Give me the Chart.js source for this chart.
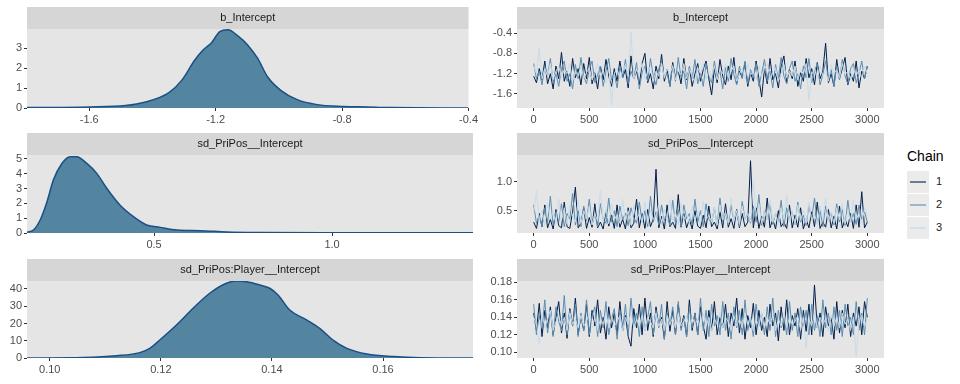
<!DOCTYPE html>
<html>
<head>
<meta charset="utf-8">
<script src="https://cdn.jsdelivr.net/npm/chart.js@4.4.1/dist/chart.umd.min.js"></script>
<style>
  body { margin: 0; background: #fff; width: 960px; height: 384px; overflow: hidden; position: relative; font-family: "Liberation Sans", Arial, sans-serif; }
  canvas { position: absolute; }
  .legend-title { position: absolute; left: 907px; top: 148px; font-size: 14px; color: #000; }
  .key { position: absolute; left: 907px; width: 22px; height: 22px; background: #EBEBEB; }
  .key span { position: absolute; left: 3px; right: 3px; top: 10px; height: 2px; }
  .key-label { position: absolute; left: 936px; font-size: 11px; color: #1A1A1A; }
</style>
</head>
<body>
<canvas id="dens1" width="480" height="128" style="left:0;top:0"></canvas>
<canvas id="dens2" width="480" height="126" style="left:0;top:128px"></canvas>
<canvas id="dens3" width="480" height="130" style="left:0;top:254px"></canvas>
<canvas id="trace1" width="410" height="128" style="left:480px;top:0"></canvas>
<canvas id="trace2" width="410" height="126" style="left:480px;top:128px"></canvas>
<canvas id="trace3" width="410" height="130" style="left:480px;top:254px"></canvas>

<div class="legend-title">Chain</div>
<div class="key" style="top:171px"><span style="background:rgba(1,31,75,0.55)"></span></div>
<div class="key" style="top:194px"><span style="background:rgba(91,141,176,0.55)"></span></div>
<div class="key" style="top:217px"><span style="background:rgba(200,220,234,0.75)"></span></div>
<div class="key-label" style="top:175px">1</div>
<div class="key-label" style="top:198px">2</div>
<div class="key-label" style="top:221px">3</div>

<script>
// parameter names (facet strips)
const params = ['b_Intercept', 'sd_PriPos__Intercept', 'sd_PriPos:Player__Intercept'];

// density curves: x value, density
const densB_x = [-1.797, -1.6, -1.485, -1.422, -1.349, -1.307, -1.266, -1.24, -1.213, -1.187, -1.161, -1.13, -1.099, -1.067, -1.036, -0.994, -0.942, -0.879, -0.796, -0.72, -0.65, -0.4];
const densB_y = [0.02, 0.05, 0.12, 0.3, 0.76, 1.4, 2.41, 2.91, 3.28, 3.84, 3.93, 3.62, 3.17, 2.49, 1.57, 0.89, 0.42, 0.17, 0.08, 0.05, 0.02, 0.0];

const densSd_x = [0.142, 0.161, 0.18, 0.199, 0.217, 0.241, 0.264, 0.283, 0.311, 0.339, 0.367, 0.404, 0.442, 0.479, 0.517, 0.564, 0.629, 0.704, 0.8, 1.0, 1.396];
const densSd_y = [0.05, 0.2, 0.88, 2.1, 3.58, 4.7, 5.16, 5.16, 4.7, 4.03, 3.02, 1.89, 1.1, 0.54, 0.38, 0.2, 0.16, 0.07, 0.03, 0.01, 0.01];

const densPl_x = [0.0958, 0.106, 0.112, 0.1162, 0.118, 0.1198, 0.1228, 0.1258, 0.1288, 0.1318, 0.1336, 0.1354, 0.1378, 0.1396, 0.1411, 0.1432, 0.1463, 0.1486, 0.151, 0.1535, 0.1571, 0.1619, 0.1667, 0.1762];
const densPl_y = [0, 0.3, 1.3, 3.1, 5.6, 10.4, 19.1, 28.8, 37.5, 43.3, 44.6, 44.2, 42.3, 40.4, 36.5, 27.8, 22, 17.2, 10.4, 5.6, 2.3, 0.8, 0.15, 0];

// tick labels
const densB_ticksX = [-1.6, -1.2, -0.8, -0.4];
const densB_ticksY = [0, 1, 2, 3];
const densSd_ticksX = [0.5, 1.0];
const densSd_ticksY = [0, 1, 2, 3, 4, 5];
const densPl_ticksX = [0.10, 0.12, 0.14, 0.16];
const densPl_ticksY = [0, 10, 20, 30, 40];
const iterTicks = [0, 500, 1000, 1500, 2000, 2500, 3000];
const traceB_ticksY = [-0.4, -0.8, -1.2, -1.6];
const traceSd_ticksY = [0.5, 1.0];
const tracePl_ticksY = [0.10, 0.12, 0.14, 0.16, 0.18];

// trace samples (every 25th iteration)
const iterations = [
  0, 25, 50, 75, 100, 125, 150, 175, 200, 225, 250, 275, 300, 325, 350, 375, 400, 425, 450, 475,
  500, 525, 550, 575, 600, 625, 650, 675, 700, 725, 750, 775, 800, 825, 850, 875, 900, 925, 950, 975,
  1000, 1025, 1050, 1075, 1100, 1125, 1150, 1175, 1200, 1225, 1250, 1275, 1300, 1325, 1350, 1375, 1400, 1425, 1450, 1475,
  1500, 1525, 1550, 1575, 1600, 1625, 1650, 1675, 1700, 1725, 1750, 1775, 1800, 1825, 1850, 1875, 1900, 1925, 1950, 1975,
  2000, 2025, 2050, 2075, 2100, 2125, 2150, 2175, 2200, 2225, 2250, 2275, 2300, 2325, 2350, 2375, 2400, 2425, 2450, 2475,
  2500, 2525, 2550, 2575, 2600, 2625, 2650, 2675, 2700, 2725, 2750, 2775, 2800, 2825, 2850, 2875, 2900, 2925, 2950, 2975, 3000];

const traceB_c1 = [
  -1.25,-1.38,-1.1,-1.32,-0.95,-1.4,-1.2,-1.5,-1.05,-1.3, -0.78,-1.35,-1.15,-1.45,-0.9,-1.28,-1.1,-1.42,-1.0,-1.3,
  -0.88,-1.4,-1.18,-1.5,-1.05,-1.32,-0.92,-1.25,-1.45,-1.1, -1.35,-0.95,-1.28,-1.12,-1.48,-0.85,-1.3,-1.15,-1.42,-1.0,
  -0.8,-1.38,-1.2,-1.5,-1.05,-1.3,-0.82,-1.35,-1.12,-1.45, -0.98,-1.28,-1.15,-1.4,-0.9,-1.32,-1.08,-1.45,-1.2,-1.0,
  -1.35,-1.12,-0.95,-1.3,-1.62,-1.1,-1.38,-0.92,-1.25,-1.42, -1.05,-1.32,-0.88,-1.4,-1.15,-1.28,-0.98,-1.45,-1.18,-1.35,
  -0.95,-1.3,-1.66,-1.1,-1.4,-0.9,-1.32,-1.2,-1.48,-1.05, -0.85,-1.38,-1.12,-1.3,-0.95,-1.45,-1.18,-1.35,-0.9,-1.28,
  -1.1,-1.42,-0.98,-1.3,-1.15,-0.6,-1.38,-1.2,-1.45,-0.92, -1.3,-1.1,-0.88,-1.42,-1.2,-1.35,-0.95,-1.48,-1.15,-1.3,-1.05];
const traceB_c2 = [
  -1.0,-1.3,-1.15,-1.42,-1.05,-1.25,-0.9,-1.38,-1.2,-1.45, -1.1,-0.95,-1.35,-1.2,-1.5,-1.02,-1.3,-0.88,-1.25,-1.4,
  -1.12,-0.95,-1.38,-1.22,-1.05,-1.45,-1.15,-0.9,-1.32,-1.2, -1.48,-1.05,-1.28,-0.92,-1.4,-1.15,-1.3,-0.98,-1.5,-1.18,
  -1.05,-1.35,-0.9,-1.25,-1.42,-1.1,-0.95,-1.3,-1.2,-1.45, -1.02,-1.35,-0.88,-1.28,-1.15,-1.5,-1.05,-1.3,-0.92,-1.4,
  -1.18,-1.45,-1.0,-1.25,-1.38,-0.95,-1.3,-1.15,-1.5,-1.08, -1.35,-0.9,-1.22,-1.42,-1.05,-1.3,-0.95,-1.4,-1.12,-1.28,
  -1.0,-1.45,-1.2,-0.92,-1.35,-1.15,-1.48,-1.02,-1.3,-0.88, -1.25,-1.4,-1.1,-0.95,-1.35,-1.2,-1.5,-1.05,-1.28,-0.9,
  -1.38,-1.15,-1.0,-1.42,-1.22,-0.95,-1.3,-1.12,-1.45,-1.05, -1.32,-0.92,-1.25,-1.4,-1.1,-1.0,-1.38,-1.2,-0.95,-1.3,-1.05];
const traceB_c3 = [
  -1.05,-1.2,-0.7,-1.3,-1.1,-1.25,-1.0,-1.32,-1.15,-1.05, -1.28,-1.12,-1.2,-1.0,-1.35,-1.15,-1.25,-1.05,-1.3,-1.18,
  -1.08,-1.32,-1.2,-1.0,-1.28,-1.12,-1.38,-1.05,-1.82,-1.2, -1.1,-1.3,-1.15,-1.02,-1.25,-0.38,-1.3,-1.12,-1.22,-1.0,
  -1.3,-1.18,-1.05,-1.35,-1.15,-1.25,-1.0,-1.28,-1.12,-1.2, -1.05,-1.32,-1.15,-1.22,-1.0,-1.3,-1.1,-1.25,-1.38,-1.08,
  -1.2,-1.0,-1.3,-1.15,-1.25,-1.05,-1.32,-1.12,-1.2,-1.0, -1.28,-1.15,-1.05,-1.35,-1.2,-1.1,-1.3,-1.0,-1.22,-1.15,
  -1.32,-1.05,-1.25,-1.12,-1.0,-1.3,-1.18,-1.08,-1.35,-1.2, -1.02,-1.28,-1.15,-1.25,-1.05,-1.32,-1.12,-1.2,-1.0,-1.72,
  -1.22,-1.1,-1.3,-1.05,-1.25,-1.15,-1.35,-1.02,-1.2,-1.12, -1.28,-1.0,-1.22,-1.15,-1.32,-1.08,-1.25,-1.12,-1.3,-1.05,-1.2];

const traceSd_c1 = [
  0.3,0.19,0.45,0.22,0.6,0.2,0.35,0.18,0.52,0.24, 0.2,0.65,0.22,0.19,0.48,0.91,0.2,0.28,0.55,0.19,
  0.38,0.21,0.62,0.2,0.3,0.18,0.5,0.23,0.42,0.19, 0.6,0.21,0.35,0.18,0.55,0.2,0.28,0.7,0.2,0.45,
  0.19,0.52,0.22,0.35,1.22,0.2,0.4,0.18,0.6,0.22, 0.3,0.19,0.78,0.21,0.45,0.2,0.35,0.18,0.5,0.23,
  0.19,0.42,0.2,0.58,0.22,0.3,0.18,0.48,0.2,0.62, 0.21,0.36,0.19,0.52,0.2,0.45,0.22,0.3,1.37,0.2,
  0.55,0.19,0.4,0.21,0.72,0.2,0.35,0.18,0.5,0.22, 0.3,0.19,0.6,0.2,0.42,0.21,0.55,0.18,0.35,0.2,
  0.48,0.22,0.65,0.19,0.3,0.21,0.52,0.2,0.4,0.18, 0.58,0.2,0.35,0.22,0.45,0.19,0.6,0.21,0.83,0.2,0.3];
const traceSd_c2 = [
  0.6,0.28,0.42,0.22,0.55,0.3,0.75,0.24,0.48,0.3, 0.62,0.22,0.45,0.35,0.8,0.25,0.5,0.22,0.58,0.32,
  0.7,0.26,0.45,0.22,0.62,0.35,0.28,0.72,0.3,0.5, 0.22,0.58,0.34,0.46,0.24,0.55,0.38,0.28,0.65,0.3,
  0.5,0.22,0.75,0.3,0.48,0.25,0.6,0.33,0.42,0.24, 0.68,0.28,0.52,0.22,0.6,0.36,0.45,0.25,0.7,0.3,
  0.5,0.22,0.62,0.35,0.28,0.55,0.24,0.72,0.3,0.46, 0.25,0.6,0.32,0.5,0.22,0.66,0.35,0.45,0.28,0.58,
  0.3,0.78,0.24,0.5,0.35,0.62,0.26,0.45,0.3,0.68, 0.22,0.55,0.35,0.48,0.26,0.65,0.3,0.42,0.24,0.6,
  0.35,0.72,0.28,0.5,0.22,0.58,0.34,0.46,0.25,0.62, 0.3,0.52,0.24,0.68,0.32,0.45,0.26,0.6,0.35,0.48,0.3];
const traceSd_c3 = [
  0.45,0.85,0.3,0.5,0.25,0.62,0.35,0.48,0.28,0.7, 0.32,0.55,0.26,0.6,0.4,0.3,0.68,0.28,0.5,0.35,
  0.58,0.25,0.45,0.32,0.85,0.3,0.52,0.27,0.62,0.35, 0.42,0.28,0.7,0.32,0.5,0.25,0.6,0.35,0.45,0.3,
  0.65,0.28,0.5,0.35,0.4,0.6,0.26,0.52,0.32,0.7, 0.3,0.48,0.25,0.62,0.35,0.45,0.28,0.58,0.32,0.5,
  0.27,0.66,0.35,0.42,0.3,0.55,0.25,0.6,0.34,0.48, 0.28,0.72,0.32,0.5,0.26,0.58,0.35,0.45,0.3,1.03,
  0.4,0.62,0.28,0.5,0.34,0.68,0.3,0.45,0.26,0.55, 0.35,0.78,0.3,0.48,0.27,0.6,0.33,0.5,0.28,0.65,
  0.32,0.45,0.26,0.58,0.35,0.72,0.3,0.48,0.28,0.55, 0.34,0.62,0.27,0.5,0.3,0.68,0.35,0.45,0.28,0.55,0.4];

const tracePl_c1 = [
  0.145,0.125,0.156,0.118,0.148,0.128,0.152,0.12,0.14,0.158, 0.122,0.145,0.116,0.15,0.13,0.162,0.12,0.142,0.125,0.155,
  0.118,0.148,0.13,0.16,0.122,0.14,0.115,0.152,0.128,0.145, 0.12,0.158,0.125,0.142,0.118,0.107,0.15,0.128,0.155,0.12,
  0.162,0.125,0.145,0.118,0.152,0.13,0.14,0.115,0.158,0.124, 0.148,0.12,0.155,0.128,0.142,0.118,0.16,0.125,0.145,0.12,
  0.152,0.13,0.115,0.148,0.125,0.158,0.12,0.14,0.128,0.155, 0.118,0.145,0.13,0.162,0.122,0.15,0.115,0.142,0.128,0.156,
  0.12,0.148,0.125,0.14,0.118,0.155,0.13,0.145,0.113,0.152, 0.125,0.16,0.12,0.142,0.13,0.15,0.115,0.148,0.124,0.155,
  0.12,0.177,0.128,0.145,0.118,0.152,0.13,0.14,0.115,0.158, 0.122,0.148,0.128,0.155,0.118,0.145,0.13,0.152,0.12,0.158,0.14];
const tracePl_c2 = [
  0.155,0.12,0.142,0.128,0.16,0.122,0.148,0.118,0.152,0.135, 0.125,0.165,0.12,0.148,0.13,0.155,0.118,0.145,0.125,0.16,
  0.12,0.142,0.152,0.118,0.148,0.128,0.158,0.12,0.138,0.15, 0.115,0.148,0.125,0.155,0.12,0.162,0.13,0.145,0.118,0.152,
  0.125,0.14,0.158,0.12,0.148,0.128,0.155,0.115,0.145,0.13, 0.152,0.12,0.158,0.125,0.14,0.118,0.152,0.128,0.145,0.12,
  0.162,0.125,0.148,0.118,0.155,0.13,0.142,0.12,0.158,0.125, 0.145,0.115,0.152,0.128,0.148,0.12,0.16,0.125,0.14,0.118,
  0.155,0.13,0.145,0.12,0.152,0.125,0.162,0.118,0.148,0.128, 0.14,0.12,0.158,0.125,0.145,0.118,0.152,0.13,0.148,0.12,
  0.155,0.125,0.142,0.118,0.16,0.128,0.145,0.12,0.152,0.125, 0.148,0.118,0.155,0.13,0.14,0.12,0.158,0.125,0.145,0.12,0.162];
const tracePl_c3 = [
  0.14,0.132,0.11,0.145,0.128,0.138,0.148,0.125,0.135,0.142, 0.13,0.14,0.125,0.145,0.132,0.138,0.128,0.142,0.13,0.135,
  0.145,0.128,0.14,0.125,0.138,0.132,0.145,0.128,0.14,0.13, 0.135,0.142,0.125,0.14,0.132,0.145,0.128,0.138,0.13,0.142,
  0.125,0.14,0.135,0.128,0.145,0.13,0.138,0.125,0.142,0.132, 0.14,0.128,0.145,0.13,0.135,0.142,0.125,0.14,0.132,0.138,
  0.128,0.145,0.13,0.14,0.125,0.138,0.132,0.145,0.128,0.14, 0.135,0.125,0.142,0.13,0.138,0.128,0.145,0.132,0.14,0.125,
  0.138,0.13,0.145,0.128,0.14,0.132,0.142,0.125,0.138,0.13, 0.145,0.128,0.14,0.132,0.135,0.142,0.125,0.14,0.104,0.138,
  0.13,0.145,0.128,0.14,0.132,0.138,0.125,0.142,0.13,0.14, 0.128,0.145,0.132,0.138,0.125,0.14,0.095,0.135,0.142,0.13,0.138];

const chainColors = ['#011f4b', '#5b8db0', '#c8dcea'];

// panel background + grey strip with the parameter name
const facetPlugin = {
  id: 'facet',
  beforeDraw(chart, args, opts) {
    const ctx = chart.ctx, a = chart.chartArea;
    ctx.save();
    ctx.fillStyle = '#E5E5E5';
    ctx.fillRect(a.left, a.top, a.right - a.left, a.bottom - a.top);
    ctx.fillStyle = '#D6D6D6';
    ctx.fillRect(a.left, a.top - 22, a.right - a.left, 22);
    ctx.fillStyle = '#1A1A1A';
    ctx.font = '11px "Liberation Sans", Arial, sans-serif';
    ctx.textAlign = 'center';
    ctx.textBaseline = 'middle';
    ctx.fillText(opts.title, (a.left + a.right) / 2, a.top - 11);
    ctx.restore();
  }
};

function axis(min, max, ticks, size, isX, fmt) {
  return {
    type: 'linear', min: min, max: max,
    grid: { display: true, drawOnChartArea: false, drawTicks: true, tickLength: 3, color: '#333333' },
    border: { display: false },
    ticks: {
      color: '#4D4D4D', font: { size: 11, family: '"Liberation Sans", Arial, sans-serif' },
      padding: 2, maxRotation: 0, autoSkip: false,
      callback: v => fmt ? fmt(v) : String(v)
    },
    afterBuildTicks: s => { s.ticks = ticks.map(v => ({ value: v })); },
    afterFit: s => { if (isX) s.height = size; else s.width = size; }
  };
}

function makeChart(id, datasets, x, y, title, padTop, padRight) {
  new Chart(document.getElementById(id), {
    type: 'line',
    data: { datasets: datasets },
    options: {
      responsive: false, animation: false,
      layout: { padding: { top: padTop, right: padRight, left: 0, bottom: 0 } },
      plugins: { legend: { display: false }, tooltip: { enabled: false }, facet: { title: title } },
      scales: { x: x, y: y },
      elements: { point: { radius: 0 } }
    },
    plugins: [facetPlugin]
  });
}

function density(xs, ys) {
  return [{
    data: xs.map((v, i) => ({ x: v, y: ys[i] })),
    borderColor: '#1B4F86', borderWidth: 1.5,
    backgroundColor: '#5384A0', fill: 'origin',
    cubicInterpolationMode: 'monotone'
  }];
}

function traces(chains) {
  return chains.map((c, k) => ({
    data: c.map((v, i) => ({ x: iterations[i], y: v })),
    borderColor: chainColors[k], borderWidth: 1, fill: false,
    tension: 0, order: 3 - k
  }));
}

const f1 = v => v.toFixed(1);
const f2 = v => v.toFixed(2);

// left column: densities
makeChart('dens1', density(densB_x, densB_y),
  axis(-1.797, -0.4, densB_ticksX, 20, true, f1), axis(0, 3.97, densB_ticksY, 27, false), params[0], 29, 7);
makeChart('dens2', density(densSd_x, densSd_y),
  axis(0.143, 1.396, densSd_ticksX, 21, true, f1), axis(0, 5.27, densSd_ticksY, 27, false), params[1], 27, 7);
makeChart('dens3', density(densPl_x, densPl_y),
  axis(0.0959, 0.1762, densPl_ticksX, 26, true, f2), axis(0, 44.6, densPl_ticksY, 27, false), params[2], 27, 7);

// right column: traces
makeChart('trace1', traces([traceB_c1, traceB_c2, traceB_c3]),
  axis(-150, 3150, iterTicks, 20, true), axis(-1.876, -0.32, traceB_ticksY, 37, false, f1), params[0], 29, 6);
makeChart('trace2', traces([traceSd_c1, traceSd_c2, traceSd_c3]),
  axis(-150, 3150, iterTicks, 21, true), axis(0.11, 1.47, traceSd_ticksY, 37, false, f1), params[1], 27, 6);
makeChart('trace3', traces([tracePl_c1, tracePl_c2, tracePl_c3]),
  axis(-150, 3150, iterTicks, 26, true), axis(0.0935, 0.1815, tracePl_ticksY, 37, false, f2), params[2], 27, 6);
</script>
</body>
</html>
